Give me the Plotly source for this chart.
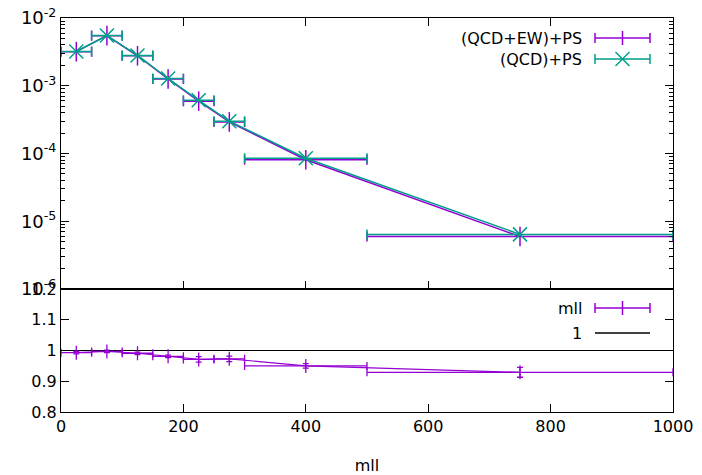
import plotly.graph_objects as go

# ---- data ----
bin_lo = [0, 50, 100, 150, 200, 250, 300, 500]
bin_hi = [50, 100, 150, 200, 250, 300, 500, 1000]
qcd_ew_ps = [3.18e-3, 5.49e-3, 2.77e-3, 1.26e-3, 5.93e-4, 2.92e-4, 8.1e-5, 5.95e-6]
qcd_ps = [3.20e-3, 5.50e-3, 2.80e-3, 1.28e-3, 6.10e-4, 3.00e-4, 8.5e-5, 6.40e-6]
ratio = [0.993, 0.997, 0.991, 0.981, 0.971, 0.973, 0.950, 0.929]
ratio_err = [0.004, 0.004, 0.004, 0.004, 0.009, 0.009, 0.007, 0.016]
ref_x = [0, 1000]
ref_y = [1, 1]
x_ticks = [0, 200, 400, 600, 800, 1000]
ratio_ticks = [0.8, 0.9, 1.0, 1.1, 1.2]
ratio_ticktext = ["0.8", "0.9", "1", "1.1", "1.2"]
log_ticks = [1e-6, 1e-5, 1e-4, 1e-3, 1e-2]
log_ticktext = ["10<sup>-6</sup>", "10<sup>-5</sup>", "10<sup>-4</sup>", "10<sup>-3</sup>", "10<sup>-2</sup>"]

centers = [(a + b) / 2 for a, b in zip(bin_lo, bin_hi)]
halfw = [(b - a) / 2 for a, b in zip(bin_lo, bin_hi)]

PURPLE = "#9400D3"
TEAL = "#009E8A"
FONT = "DejaVu Sans"
FS = 16

fig = go.Figure()

fig.add_trace(go.Scatter(
    x=centers, y=qcd_ew_ps, xaxis="x2", yaxis="y2", mode="lines+markers",
    name="(QCD+EW)+PS",
    line=dict(color=PURPLE, width=1.5),
    marker=dict(symbol="line-ns", size=14, line=dict(color=PURPLE, width=1.5)),
    error_x=dict(type="data", array=halfw, symmetric=True, width=5, thickness=1.5, color=PURPLE),
))
fig.add_trace(go.Scatter(
    x=centers, y=qcd_ps, xaxis="x2", yaxis="y2", mode="lines+markers",
    name="(QCD)+PS",
    line=dict(color=TEAL, width=1.5),
    marker=dict(symbol="x-thin", size=14, line=dict(color=TEAL, width=1.5)),
    error_x=dict(type="data", array=halfw, symmetric=True, width=5, thickness=1.5, color=TEAL),
))

fig.add_trace(go.Scatter(
    x=ref_x, y=ref_y, xaxis="x", yaxis="y", mode="lines", name="1",
    line=dict(color="black", width=1.2),
))
fig.add_trace(go.Scatter(
    x=centers, y=ratio, xaxis="x", yaxis="y", mode="lines+markers", name="mll",
    line=dict(color=PURPLE, width=1.2),
    marker=dict(symbol="line-ns", size=10, line=dict(color=PURPLE, width=1.3)),
    error_x=dict(type="data", array=halfw, symmetric=True, width=4, thickness=1.3, color=PURPLE),
    error_y=dict(type="data", array=ratio_err, symmetric=True, width=3, thickness=1.3, color=PURPLE),
))

# plot area in px
L, R, T, B = 61, 673, 18, 412
W, H = R - L, B - T
split = 289
split_p = (B - split) / H

def px(xp):
    return (xp - L) / W

def py(yp):
    return (B - yp) / H

axis_common = dict(showline=True, linecolor="black", linewidth=1, ticks="inside",
                   tickcolor="black", ticklen=8, showgrid=False, zeroline=False,
                   automargin=False)
tf = dict(family=FONT, size=FS, color="black")

fig.update_layout(
    width=702, height=475,
    margin=dict(l=L, r=702 - R, t=T, b=475 - B),
    plot_bgcolor="white", paper_bgcolor="white",
    showlegend=False,
    font=dict(family=FONT, size=FS, color="black"),
    xaxis=dict(domain=[0, 1], range=[0, 1000], anchor="y", tickvals=x_ticks,
               mirror=True, title=dict(text="mll", font=dict(family=FONT, size=FS), standoff=29),
               tickfont=tf, **axis_common),
    yaxis=dict(domain=[0, split_p], range=[0.8, 1.2], anchor="x", tickvals=ratio_ticks,
               ticktext=ratio_ticktext, mirror="allticks", tickfont=tf, **axis_common),
    xaxis2=dict(domain=[0, 1], range=[0, 1000], anchor="y2", matches="x", tickvals=x_ticks,
                showticklabels=False, mirror="allticks", tickfont=tf, **axis_common),
    yaxis2=dict(domain=[split_p, 1], type="log", range=[-6, -2], anchor="x2",
                tickvals=log_ticks, ticktext=log_ticktext, mirror="allticks",
                tickfont=dict(family=FONT, size=18, color="black"),
                minor=dict(ticks="inside", ticklen=4, tickcolor="black", showgrid=False,
                           dtick="D1"),
                **axis_common),
)

# manual gnuplot-style keys
shapes = []
annotations = []

def key(ytxt, text, color, marker):
    yp = py(ytxt)
    x0, x1, xm = px(595), px(650), px(622.5)
    shapes.append(dict(type="line", xref="paper", yref="paper", x0=x0, x1=x1, y0=yp, y1=yp,
                       line=dict(color=color, width=1.5)))
    if marker in ("plus", "x"):
        cap = 5 / H
        for xx in (x0, x1):
            shapes.append(dict(type="line", xref="paper", yref="paper", x0=xx, x1=xx,
                               y0=yp - cap, y1=yp + cap, line=dict(color=color, width=1.5)))
    if marker == "plus":
        m = 7 / H
        shapes.append(dict(type="line", xref="paper", yref="paper", x0=xm, x1=xm,
                           y0=yp - m, y1=yp + m, line=dict(color=color, width=1.5)))
    if marker == "x":
        mx, my = 7 / W, 7 / H
        shapes.append(dict(type="line", xref="paper", yref="paper", x0=xm - mx, x1=xm + mx,
                           y0=yp - my, y1=yp + my, line=dict(color=color, width=1.5)))
        shapes.append(dict(type="line", xref="paper", yref="paper", x0=xm - mx, x1=xm + mx,
                           y0=yp + my, y1=yp - my, line=dict(color=color, width=1.5)))
    annotations.append(dict(xref="paper", yref="paper", x=px(584), y=yp, text=text,
                            showarrow=False, xanchor="right", yanchor="middle",
                            font=dict(family=FONT, size=FS, color="black")))

key(38, "(QCD+EW)+PS", PURPLE, "plus")
key(59, "(QCD)+PS", TEAL, "x")
key(308, "mll", PURPLE, "plus")
key(333, "1", "black", "line")

fig.update_layout(shapes=shapes, annotations=annotations)

fig.write_html("out.html", config={"displayModeBar": False},
               post_script="document.body.style.margin='0';document.body.style.padding='0';")
